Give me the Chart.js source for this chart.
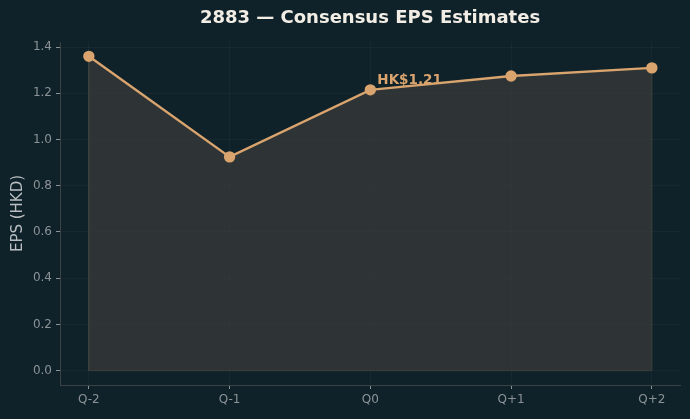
<!DOCTYPE html>
<html>
<head>
<meta charset="utf-8">
<script src="https://cdn.jsdelivr.net/npm/chart.js@4"></script>
<style>
  html, body { margin: 0; padding: 0; background: #0f2129; }
  #wrap { width: 690px; height: 419px; }
</style>
</head>
<body>
<div id="wrap"><canvas id="eps" width="690" height="419"></canvas></div>
<script>
// quarters and consensus EPS (HKD)
const quarters = ['Q-2', 'Q-1', 'Q0', 'Q+1', 'Q+2'];
const epsValues = [1.36, 0.925, 1.215, 1.275, 1.31];
const yTicks = [0.0, 0.2, 0.4, 0.6, 0.8, 1.0, 1.2, 1.4];
const highlightIndex = 2;
const highlightLabel = 'HK$1.21';
const chartTitle = '2883 — Consensus EPS Estimates';

const FONT = '"DejaVu Sans", sans-serif';
const lineColor = '#d9a46e';
const tickColor = '#8b9396';
const spineColor = '#3d4143';

const points = epsValues.map((v, i) => ({ x: i, y: v }));
const last = epsValues.length - 1;
// outline of the shaded area (sides and base)
const outline = [
  { x: 0, y: epsValues[0] }, { x: 0, y: 0 },
  { x: last, y: 0 }, { x: last, y: epsValues[last] }
];

// title centred over the plot area (like matplotlib), plus the Q0 label
const textPlugin = {
  id: 'texts',
  afterDatasetsDraw(chart) {
    const { ctx, scales, chartArea } = chart;
    ctx.save();
    ctx.font = 'bold 18px ' + FONT;
    ctx.fillStyle = '#f2eee6';
    ctx.textAlign = 'center';
    ctx.textBaseline = 'middle';
    ctx.fillText(chartTitle, (chartArea.left + chartArea.right) / 2, 18);

    const px = scales.x.getPixelForValue(highlightIndex);
    const py = scales.y.getPixelForValue(epsValues[highlightIndex]);
    ctx.font = 'bold 13.5px ' + FONT;
    ctx.fillStyle = lineColor;
    ctx.textAlign = 'left';
    ctx.textBaseline = 'alphabetic';
    ctx.fillText(highlightLabel, px + 7, py - 6);
    ctx.restore();
  }
};

new Chart(document.getElementById('eps'), {
  type: 'line',
  data: {
    datasets: [
      {
        data: points,
        borderColor: lineColor,
        borderWidth: 2.4,
        backgroundColor: 'rgba(60,60,58,0.7)',
        fill: 'origin',
        pointRadius: 4.5,
        pointBackgroundColor: lineColor,
        pointBorderColor: lineColor,
        tension: 0,
        order: 1
      },
      {
        data: outline,
        borderColor: '#3e4442',
        borderWidth: 1,
        pointRadius: 0,
        fill: false,
        order: 2
      }
    ]
  },
  options: {
    responsive: false,
    animation: false,
    layout: { padding: { left: 0, right: 10, top: 42, bottom: 0 } },
    plugins: {
      legend: { display: false },
      tooltip: { enabled: false },
      title: { display: false }
    },
    scales: {
      x: {
        type: 'linear',
        min: -0.205,
        max: last + 0.2,
        afterBuildTicks(axis) {
          axis.ticks = quarters.map((q, i) => ({ value: i }));
        },
        afterFit(axis) { axis.height = 34; },
        ticks: {
          color: tickColor,
          font: { family: FONT, size: 12 },
          padding: 4,
          callback: (v) => quarters[v]
        },
        grid: {
          color: 'rgba(255,255,255,0.035)',
          tickColor: tickColor,
          tickLength: 4
        },
        border: { color: spineColor, width: 1 }
      },
      y: {
        min: -0.062,
        max: 1.422,
        afterBuildTicks(axis) {
          axis.ticks = yTicks.map(v => ({ value: v }));
        },
        afterFit(axis) { axis.width = 60; },
        ticks: {
          color: tickColor,
          font: { family: FONT, size: 12 },
          padding: 4,
          callback: (v) => v.toFixed(1)
        },
        grid: {
          color: 'rgba(255,255,255,0.035)',
          tickColor: tickColor,
          tickLength: 4
        },
        border: { color: spineColor, width: 1 },
        title: {
          display: true,
          text: 'EPS (HKD)',
          color: '#b9bec1',
          font: { family: FONT, size: 15 },
          padding: { top: 9, bottom: 0 }
        }
      }
    }
  },
  plugins: [textPlugin]
});
</script>
</body>
</html>
